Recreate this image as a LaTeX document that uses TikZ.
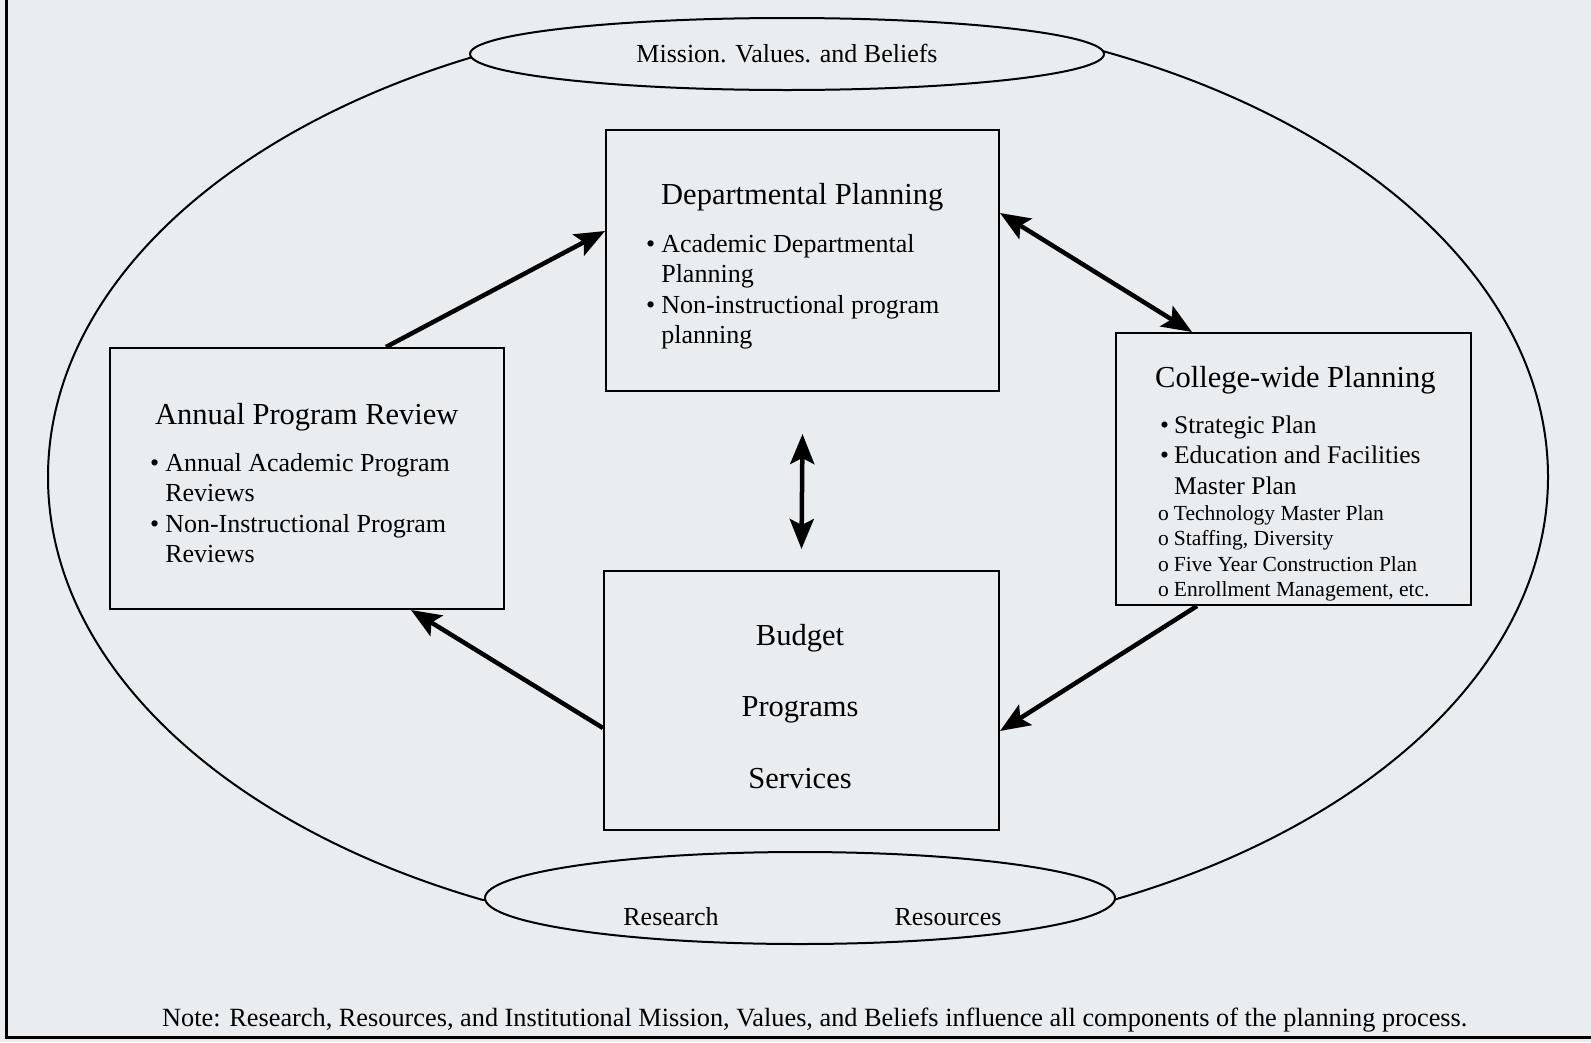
\documentclass[tikz,border=0pt]{standalone}
\usepackage{fontspec}
\setmainfont{Liberation Serif}
\usepackage{tikz}
\usetikzlibrary{arrows.meta,shapes.geometric}
\definecolor{paper}{RGB}{233,237,240}

\begin{document}
\begin{tikzpicture}[x=1pt,y=-1pt,>={Stealth[length=30pt,width=24pt,inset=6pt]}]
  \tikzstyle{planbox}=[rectangle,line width=2pt,draw=black,fill=paper,inner sep=0pt]
  \tikzstyle{oval}=[ellipse,line width=2pt,draw=black,fill=paper,inner sep=0pt]
  \tikzstyle{heading}=[inner sep=0pt,anchor=base west,font=\fontsize{30.5}{36}\selectfont]
  \tikzstyle{items}=[inner sep=0pt,anchor=base west,font=\fontsize{26}{30.5}\selectfont]
  \tikzstyle{subitems}=[inner sep=0pt,anchor=base west,font=\fontsize{21.5}{25.3}\selectfont]
  \tikzstyle{flow}=[line width=4.5pt]

  \fill[paper] (0,0) rectangle (1591,1042);
  \useasboundingbox (0,0) rectangle (1591,1042);
  \draw[line width=3pt] (6,0) -- (6,1037) -- (1591,1037);

  % outer loop
  \begin{scope}
    \clip (0,50) rectangle (1591,900);
    \draw[line width=2pt] (798,477) ellipse [x radius=750, y radius=466];
  \end{scope}
  \node[oval,minimum width=634pt,minimum height=72pt] (mission) at (787,54)
    {\fontsize{26}{30}\selectfont Mission. Values. and Beliefs};
  \node[oval,minimum width=630pt,minimum height=92pt] (sources) at (800,898) {};
  \node[items,anchor=base] (research) at (671,925) {Research};
  \node[items,anchor=base] (resources) at (948,925) {Resources};

  \begin{scope}
    % boxes
    \node[planbox,minimum width=393pt,minimum height=261pt] (dept) at (802.5,260.5) {};
    \node[planbox,minimum width=394pt,minimum height=261pt] (apr) at (307,478.5) {};
    \node[planbox,minimum width=355pt,minimum height=272pt] (college) at (1293.5,469) {};
    \node[planbox,minimum width=395pt,minimum height=259pt] (budget) at (801.5,700.5) {};

    \node[heading] (deptT) at (661,204) {Departmental Planning};
    \node[items] (deptL) at (646,252) {\begin{tabular}[t]{@{}l@{\hspace{6pt}}l@{}}
      \textbullet & Academic Departmental\\ & Planning\\
      \textbullet & Non-instructional program\\ & planning\end{tabular}};

    \node[heading] (aprT) at (155,424) {Annual Program Review};
    \node[items] (aprL) at (150,471) {\begin{tabular}[t]{@{}l@{\hspace{6pt}}l@{}}
      \textbullet & Annual Academic Program\\ & Reviews\\
      \textbullet & Non-Instructional Program\\ & Reviews\end{tabular}};

    \node[heading] (collegeT) at (1155,387) {College-wide Planning};
    \node[items,font=\fontsize{25.5}{30.5}\selectfont] (collegeL) at (1160,433)
      {\begin{tabular}[t]{@{}l@{\hspace{5pt}}l@{}}
      \textbullet & Strategic Plan\\
      \textbullet & Education and Facilities\\ & Master Plan\end{tabular}};
    \node[subitems] (collegeS) at (1158,520.5) {\begin{tabular}[t]{@{}l@{\hspace{5pt}}l@{}}
      o & Technology Master Plan\\
      o & Staffing, Diversity\\
      o & Five Year Construction Plan\\
      o & Enrollment Management, etc.\end{tabular}};

    \node[heading,anchor=base,font=\fontsize{30.5}{71.5}\selectfont] (budgetT) at (800,645)
      {\begin{tabular}[t]{@{}c@{}}Budget\\Programs\\Services\end{tabular}};
  \end{scope}

  \begin{scope}
    \draw[flow,->] ([xshift=79pt]apr.north) -- ([yshift=29.5pt]dept.west);
    \draw[flow,<->] ([yshift=47.5pt]dept.east) -- ([xshift=-101.5pt]college.north);
    \draw[flow,<->] ([yshift=-42pt]dept.south) -- ([yshift=21pt]budget.north);
    \draw[flow,->] ([xshift=-96.5pt]college.south) -- ([yshift=-30.5pt]budget.east);
    \draw[flow,->] ([yshift=-27.5pt]budget.west) -- ([xshift=104pt]apr.south);
  \end{scope}

  \node[items,font=\fontsize{26.3}{30.5}\selectfont] (note) at (162,1026) {Note: Research, Resources, and Institutional Mission, Values, and Beliefs influence all components of the planning process.};
\end{tikzpicture}
\end{document}
